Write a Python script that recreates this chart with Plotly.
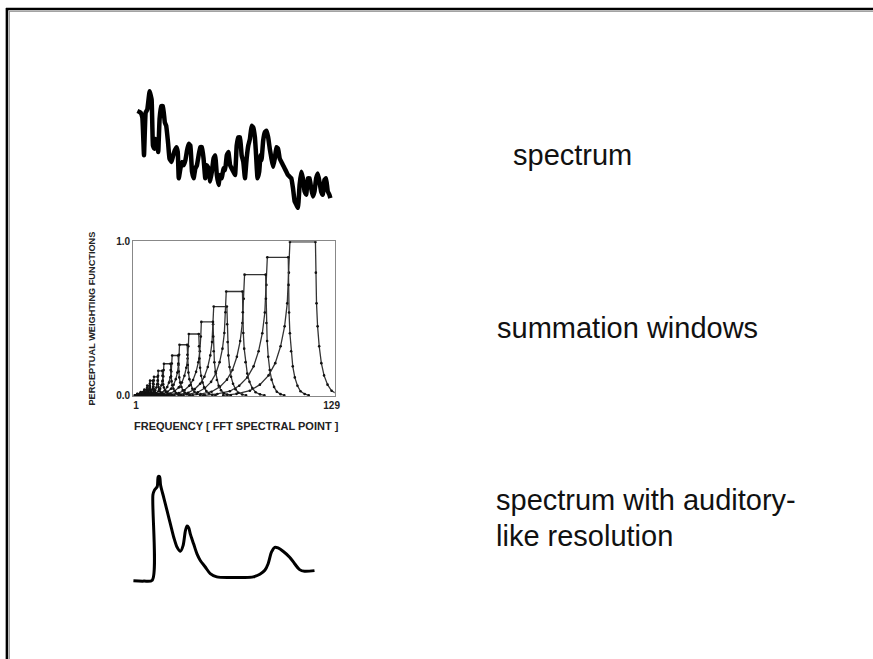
import plotly.graph_objects as go

W, H = 873, 659

# ---- raw spectrum (top sketch): frequency position vs. level ----
SPEC_FREQ = [25, 35, 40, 45, 50, 55, 62, 68, 72, 76, 80, 85, 88, 92, 97, 102, 108, 112, 118, 122,
             128, 132, 138, 143, 147, 150, 155, 160, 165, 170, 175, 180, 185, 190, 195, 200, 205,
             210, 215, 220, 225, 230, 235, 240, 245, 250, 255, 260, 265, 270, 275, 280, 285, 290,
             295, 300, 305, 310, 315, 320, 325, 330, 335, 340, 345, 350, 355, 360, 365, 370, 375,
             380, 383, 388, 393, 397, 400, 405, 410, 415, 420, 425, 430, 435, 440, 445, 450, 455,
             460, 465, 470, 475, 480, 485, 490, 495, 500, 505, 510, 515, 520, 525, 530, 535, 540,
             545, 550, 555, 560, 565, 570, 575, 580, 585, 590, 595, 600, 605, 608]
SPEC_LEVEL = [305, 300, 285, 170, 300, 310, 365, 340, 200, 190, 220, 205, 180, 280, 320, 320, 270,
              260, 205, 160, 150, 165, 185, 195, 180, 100, 130, 150, 140, 155, 185, 205, 200, 120,
              100, 130, 140, 170, 195, 195, 160, 100, 140, 130, 90, 120, 160, 170, 110, 80, 110,
              100, 130, 125, 170, 180, 140, 130, 120, 110, 200, 225, 225, 170, 150, 100, 160, 200,
              220, 260, 255, 225, 180, 100, 120, 170, 155, 215, 240, 245, 225, 190, 160, 135, 160,
              195, 190, 160, 150, 140, 130, 120, 110, 105, 100, 70, 30, 20, 10, 80, 120, 100, 60,
              50, 100, 100, 70, 45, 60, 100, 115, 90, 60, 50, 95, 100, 60, 50, 40]

# ---- summation windows (middle plot): one window per band ----
WIN_HEIGHT = [1.0, 0.90, 0.787, 0.677, 0.579, 0.479, 0.40, 0.33, 0.26, 0.206, 0.16, 0.121,
              0.096, 0.064, 0.038, 0.021, 0.01]
WIN_TOP_START = [101.7, 86.9, 72.0, 60.0, 51.8, 43.7, 35.5, 29.4, 24.6, 19.2, 15.5, 12.7, 10.1,
                 8.3, 6.4, 4.0, 1.8]
WIN_TOP_END = [118.4, 100.6, 85.8, 70.6, 60.4, 51.3, 42.0, 34.4, 28.5, 23.5, 18.1, 15.1, 12.0,
               9.9, 7.9, 5.5, 3.3]
WIN_LEFT_FOOT = [58, 46, 36, 29, 24, 19, 15, 12, 10, 8, 6.5, 5, 4, 3, 2, 1, 0]
WIN_RIGHT_FOOT = [136, 114, 98, 85, 73, 63, 53, 45, 38, 32, 26, 22, 18, 15, 12, 9, 6]
# skirt shape: distance from the flat top (fraction of skirt width) vs. fraction of height
SKIRT_DIST = [0.0, 0.015, 0.04, 0.08, 0.14, 0.22, 0.32, 0.45, 0.6, 0.8, 1.0]
SKIRT_FRAC = [1.0, 0.8, 0.6, 0.45, 0.32, 0.21, 0.13, 0.07, 0.03, 0.01, 0.0]

X_TICKS = [1, 129]
X_TICK_TEXT = ["<b>1</b>", "<b>129</b>"]
Y_TICKS = [0.0, 1.0]
Y_TICK_TEXT = ["<b>0.0</b>", "<b>1.0</b>"]

# ---- auditory-like spectrum (bottom sketch) ----
AUD_FREQ = [28, 60, 85, 87, 92, 100, 103, 107, 110, 120, 130, 140, 150, 160, 170, 178, 185, 190,
            195, 200, 210, 220, 230, 245, 260, 280, 320, 360, 390, 410, 425, 435, 445, 455, 465,
            480, 500, 515, 530, 545, 575]
AUD_LEVEL = [38, 37, 40, 300, 315, 325, 355, 355, 330, 290, 250, 210, 170, 140, 128, 145, 190,
             205, 200, 180, 150, 120, 100, 80, 60, 50, 48, 48, 50, 58, 70, 90, 125, 140, 138, 128,
             110, 90, 72, 67, 69]

LABELS = ["spectrum", "summation windows", "spectrum with auditory-", "like resolution"]

FONT = "Liberation Sans, Arial, sans-serif"


def dom_x(x0, x1):
    return [x0 / W, x1 / W]


def dom_y(y_top, y_bottom):
    return [1 - y_bottom / H, 1 - y_top / H]


fig = go.Figure()

# top sketch
fig.add_trace(go.Scatter(x=SPEC_FREQ, y=SPEC_LEVEL, mode="lines",
                         line=dict(color="black", width=4.5, shape="spline", smoothing=0.3),
                         xaxis="x", yaxis="y", hoverinfo="skip"))

# summation windows
for h, a, b, lf, rf in zip(WIN_HEIGHT, WIN_TOP_START, WIN_TOP_END, WIN_LEFT_FOOT, WIN_RIGHT_FOOT):
    lw, rw = a - lf, rf - b
    xs = [a - d * lw for d in reversed(SKIRT_DIST)] + [b + d * rw for d in SKIRT_DIST]
    ys = [h * f for f in reversed(SKIRT_FRAC)] + [h * f for f in SKIRT_FRAC]
    fig.add_trace(go.Scatter(x=xs, y=ys, mode="lines+markers",
                             line=dict(color="#333333", width=1.3),
                             marker=dict(color="#111111", size=2.6),
                             xaxis="x2", yaxis="y2", hoverinfo="skip"))

# bottom sketch
fig.add_trace(go.Scatter(x=AUD_FREQ, y=AUD_LEVEL, mode="lines",
                         line=dict(color="black", width=3, shape="spline", smoothing=0.8),
                         xaxis="x3", yaxis="y3", hoverinfo="skip"))

hidden = dict(visible=False, fixedrange=True)
tick_font = dict(family=FONT, size=10, color="#222222")

fig.update_layout(
    width=W, height=H,
    margin=dict(l=0, r=0, t=0, b=0),
    paper_bgcolor="white", plot_bgcolor="rgba(0,0,0,0)",
    showlegend=False,
    xaxis=dict(domain=dom_x(130, 340), range=[0, 630], anchor="y", **hidden),
    yaxis=dict(domain=dom_y(76, 216), range=[-20, 400], anchor="x", **hidden),
    xaxis2=dict(domain=dom_x(134, 337), range=[-1, 131], anchor="y2",
                showline=True, linecolor="#888888", linewidth=1, mirror=True,
                showgrid=False, zeroline=False, ticks="",
                tickvals=X_TICKS, ticktext=X_TICK_TEXT, tickfont=tick_font),
    yaxis2=dict(domain=dom_y(240, 397), range=[-0.004, 1.004], anchor="x2",
                showline=True, linecolor="#888888", linewidth=1, mirror=True,
                showgrid=False, zeroline=False, ticks="",
                tickvals=Y_TICKS, ticktext=Y_TICK_TEXT, tickfont=tick_font),
    xaxis3=dict(domain=dom_x(125, 325), range=[0, 600], anchor="y3", **hidden),
    yaxis3=dict(domain=dom_y(464, 594), range=[10, 400], anchor="x3", **hidden),
)

# axis titles of the window plot
fig.add_annotation(text="<b>FREQUENCY [ FFT SPECTRAL POINT ]</b>", xref="paper", yref="paper",
                   x=238 / W, y=1 - 427 / H, showarrow=False, xanchor="center", yanchor="middle",
                   font=dict(family=FONT, size=11, color="#222222"))
fig.add_annotation(text="<b>PERCEPTUAL WEIGHTING FUNCTIONS</b>", xref="paper", yref="paper",
                   x=93 / W, y=1 - 318 / H, showarrow=False, textangle=-90,
                   xanchor="center", yanchor="middle",
                   font=dict(family=FONT, size=9.2, color="#222222"))

# slide captions
label_pos = [(515, 152), (498, 328), (497, 503), (497, 539)]
for txt, (lx, ly) in zip(LABELS, label_pos):
    fig.add_annotation(text=txt, xref="paper", yref="paper", x=lx / W, y=1 - ly / H,
                       showarrow=False, xanchor="left", yanchor="middle",
                       font=dict(family=FONT, size=29, color="#111111"))

# slide frame: dark top and left edges with a thin grey inner line
frame = [
    dict(x0=6 / W, x1=1.02, y0=1 - 4 / H, y1=1 - 4 / H, color="black", w=2.6),
    dict(x0=7 / W, x1=7 / W, y0=-0.02, y1=1 - 3 / H, color="black", w=2.6),
    dict(x0=9 / W, x1=1.02, y0=1 - 6.5 / H, y1=1 - 6.5 / H, color="#999999", w=1),
    dict(x0=9.5 / W, x1=9.5 / W, y0=-0.02, y1=1 - 6 / H, color="#999999", w=1),
]
for s in frame:
    fig.add_shape(type="line", xref="paper", yref="paper", x0=s["x0"], x1=s["x1"],
                  y0=s["y0"], y1=s["y1"], line=dict(color=s["color"], width=s["w"]))

fig.write_html("out.html", config={"displayModeBar": False})
